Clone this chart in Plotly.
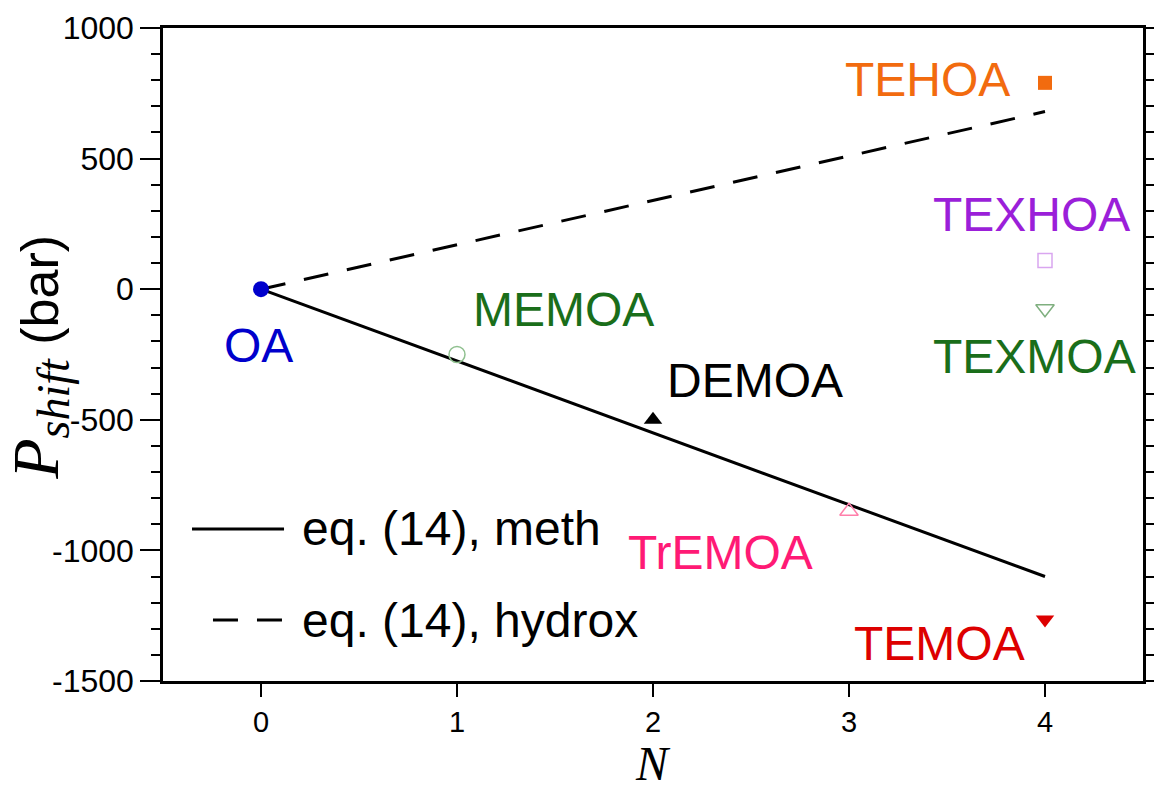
import plotly.graph_objects as go

# ---- data ----
names = ["OA", "MEMOA", "DEMOA", "TrEMOA", "TEMOA", "TEHOA", "TEXHOA", "TEXMOA"]
n_vals = [0, 1, 2, 3, 4, 4, 4, 4]
p_shift = [0, -250, -500, -850, -1265, 790, 110, -75]
symbols = ["circle", "circle-open", "triangle-up", "triangle-up-open",
           "triangle-down", "square", "square-open", "triangle-down-open"]
marker_colors = ["#0000CC", "#8FC08F", "#000000", "#FF7FAA",
                 "#DD0000", "#F26B0F", "#D9A6F0", "#7FAF7F"]
label_colors = ["#0000CC", "#1A6E1A", "#000000", "#FF1A75",
                "#DD0000", "#F26B0F", "#9B1FD9", "#1A6E1A"]
label_shift_x = [-3, 106, 102, -129, -106, -118, -14, -11]
label_shift_y = [-56, 45, 39, -41, -24, 3, 46, -48]

# eq. (14) model lines
line_n = [0, 4]
meth_line = [0, -1100]
hydrox_line = [0, 680]

y_ticks = [-1500, -1000, -500, 0, 500, 1000]
y_tick_text = ["-1500", "-1000", "-500", "0", "500", "1000"]
x_ticks = [0, 1, 2, 3, 4]

FONT = "Liberation Sans, Arial, sans-serif"

fig = go.Figure()
fig.add_trace(go.Scatter(x=line_n, y=meth_line, mode="lines",
                         line=dict(color="black", width=3), showlegend=False))
fig.add_trace(go.Scatter(x=line_n, y=hydrox_line, mode="lines",
                         line=dict(color="black", width=3, dash="25px,19px"),
                         showlegend=False))
for i in range(len(names)):
    open_sym = symbols[i].endswith("open")
    sz = 16 if ("circle" in symbols[i] or "triangle" in symbols[i]) else 14
    fig.add_trace(go.Scatter(
        x=[n_vals[i]], y=[p_shift[i]], mode="markers", showlegend=False,
        marker=dict(symbol=symbols[i], size=sz, color=marker_colors[i],
                    line=dict(width=1.5 if open_sym else 0, color=marker_colors[i]))))
    fig.add_annotation(x=n_vals[i], y=p_shift[i], text=names[i], showarrow=False,
                       xshift=label_shift_x[i], yshift=label_shift_y[i],
                       font=dict(family=FONT, size=48, color=label_colors[i]))

# dummy trace for the right-hand mirrored axis
fig.add_trace(go.Scatter(x=[None], y=[None], yaxis="y2", showlegend=False,
                         mode="markers", hoverinfo="skip"))

# manual legend
fig.add_shape(type="line", xref="paper", yref="paper", x0=0.0296, x1=0.1235,
              y0=0.2328, y1=0.2328, line=dict(color="black", width=3))
fig.add_shape(type="line", xref="paper", yref="paper", x0=0.051, x1=0.1214,
              y0=0.0934, y1=0.0934, line=dict(color="black", width=3, dash="25px,19px"))
fig.add_annotation(xref="paper", yref="paper", x=0.1398, y=0.2328, xanchor="left",
                   yanchor="middle", text="eq. (14), meth", showarrow=False,
                   font=dict(family=FONT, size=48, color="black"))
fig.add_annotation(xref="paper", yref="paper", x=0.1398, y=0.0934, xanchor="left",
                   yanchor="middle", text="eq. (14), hydrox", showarrow=False,
                   font=dict(family=FONT, size=48, color="black"))

# axis titles
fig.add_annotation(xref="paper", yref="paper", x=-0.1265, y=0.495, textangle=-90,
                   xanchor="center", yanchor="middle", showarrow=False,
                   text='<span style="font-family:Liberation Serif;font-size:66px"><i>P</i></span>'
                        '<sub><span style="font-family:Liberation Serif;font-size:46px"><i>shift</i></span></sub> (bar)',
                   font=dict(family=FONT, size=52, color="black"))
fig.add_annotation(xref="paper", yref="paper", x=0.5, y=-0.127, xanchor="center",
                   yanchor="middle", showarrow=False, text="<i>N</i>",
                   font=dict(family="Liberation Serif", size=48, color="black"))

fig.update_layout(
    width=1154, height=792,
    margin=dict(l=163, r=11, t=28, b=111, autoexpand=False),
    paper_bgcolor="white", plot_bgcolor="white",
    xaxis=dict(range=[-0.5, 4.5], tickvals=x_ticks, ticks="outside", ticklen=13,
               tickwidth=2, tickcolor="black", showline=True, linecolor="black",
               linewidth=2.5, mirror=True, showgrid=False, zeroline=False,
               automargin=False,
               tickfont=dict(family=FONT, size=29, color="black")),
    yaxis=dict(range=[-1500, 1000], tickvals=y_ticks, ticktext=y_tick_text,
               ticks="outside", ticklen=20, automargin=False,
               tickwidth=2, tickcolor="black", showline=True, linecolor="black",
               linewidth=2.5, showgrid=False, zeroline=False,
               minor=dict(dtick=100, ticks="outside", ticklen=9, tickwidth=2,
                          tickcolor="black", showgrid=False),
               tickfont=dict(family=FONT, size=32, color="black")),
    yaxis2=dict(range=[-1500, 1000], overlaying="y", side="right", dtick=100,
                ticks="outside", ticklen=9, tickwidth=2, tickcolor="black",
                showticklabels=False, showline=True, linecolor="black",
                automargin=False,
                linewidth=2.5, showgrid=False, zeroline=False),
)

fig.write_html("out.html")
